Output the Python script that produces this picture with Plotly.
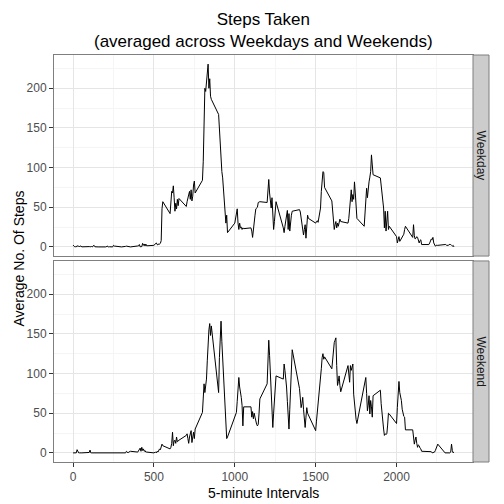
import plotly.graph_objects as go

# =====================================================
# DATA (average steps per 5-minute interval)
# =====================================================

hours = list(range(24))
minutes = list(range(0, 60, 5))
intervals = [h * 100 + m for h in hours for m in minutes]

weekday_steps = [
    2.3, 0.5, 0.2, 0.2, 0.1, 1.6, 0.6, 1.1, 0.0, 1.3, 0.3, 0.1,
    0.4, 0.0, 0.2, 0.5, 0.0, 1.5, 2.0, 0.2, 0.1, 0.3, 0.3, 0.0,
    0.0, 0.0, 1.2, 0.0, 0.0, 0.2, 0.0, 0.3, 0.0, 0.0, 2.0, 1.1,
    0.0, 0.0, 0.0, 0.0, 0.0, 0.7, 1.0, 0.7, 0.6, 0.1, 0.0, 0.0,
    1.2, 1.3, 3.0, 0.1, 0.4, 0.4, 4.5, 2.0, 3.7, 1.1, 3.6, 1.4,
    2.0, 3.0, 3.5, 5.0, 3.0, 2.5, 4.0, 3.5, 4.5, 8.0, 48.0, 57.0,
    42, 60, 70, 68, 77, 62, 45, 55, 48, 60, 52, 61,
    51, 57, 62, 66, 70, 60, 72, 58, 64, 78, 83, 68,
    84, 108, 190, 200, 196, 205, 218, 230.4, 200, 212, 190, 186,
    167, 145, 125, 104, 95, 87, 70, 49, 38, 30, 40, 18,
    30, 36, 42, 48, 30, 22, 30, 24, 25, 22, 24, 23,
    24, 20, 12, 25, 30, 40, 48, 49, 50, 56, 57, 57,
    56, 70, 85, 68, 60, 49, 62, 45, 22, 32, 41, 57,
    24, 18, 26, 35, 40, 46, 22, 42, 20, 35, 40, 45,
    47, 44, 38, 32, 24, 15, 22, 28, 11, 25, 40, 36,
    30, 32, 33, 31, 36, 40, 49, 70, 85, 95, 94, 75,
    58, 48, 40, 22, 28, 32, 24, 30, 26, 30, 35, 32,
    30, 36, 50, 62, 72, 57, 66, 60, 82, 68, 50, 36,
    26, 49, 60, 74, 62, 75, 82, 88, 95, 116, 97, 91,
    87, 78, 70, 60, 49, 24, 45, 20, 32, 45, 22, 26,
    13, 5, 9, 13, 7, 9, 10, 12, 14, 16, 22, 26,
    12, 28, 14, 10, 11, 13, 12, 8, 5, 8, 9, 3,
    3, 5, 7, 10, 9, 12, 5, 2, 1, 2, 2, 2,
    3, 3, 2, 2, 2, 3, 3, 3, 2, 1, 2, 0,
]

weekend_steps = [
    0, 0, 0, 0, 0, 4, 1, 0, 0, 0.5, 0, 0,
    0.5, 3.5, 0, 0, 0, 0, 0, 0, 0, 0, 0, 0,
    0, 0, 0, 0, 0, 0, 0, 0, 0, 0, 0, 0,
    0, 0, 0, 0, 0, 0, 2, 0, 0, 1, 2, 2,
    1, 3, 4, 6, 2, 7, 3, 5, 2, 3, 1, 1,
    0, 0.5, 1, 0, 2, 1, 3, 5, 4, 8, 11, 9,
    5, 7, 12, 26, 9, 15, 16, 12, 20, 14, 16, 16,
    22, 24, 18, 12, 20, 25, 28, 13, 20, 26, 18, 30,
    51, 70, 87, 76, 85, 93, 116, 150, 155, 163, 148, 160,
    76, 120, 145, 166, 140, 118, 100, 79, 45, 30, 18, 20,
    45, 48, 51, 65, 80, 95, 83, 78, 70, 60, 34, 58,
    58, 45, 52, 43, 50, 45, 38, 36, 34, 36, 50, 68,
    87, 110, 142, 123, 100, 83, 60, 32, 50, 72, 82, 97,
    93, 112, 104, 95, 83, 65, 45, 30, 55, 85, 110, 130,
    81, 70, 57, 62, 70, 55, 45, 32, 45, 57, 50, 48,
    28, 40, 50, 62, 75, 83, 95, 106, 120, 125, 118, 121,
    106, 120, 133, 139, 142, 145, 110, 85, 90, 97, 85, 77,
    110, 100, 89, 110, 104, 108, 112, 74, 60, 49, 42, 37,
    87, 90, 95, 75, 53, 60, 72, 49, 66, 58, 45, 72,
    79, 62, 47, 38, 30, 22, 24, 23, 24, 35, 50, 49,
    37, 57, 80, 90, 76, 72, 66, 55, 47, 46, 45, 29,
    29, 20, 11, 16, 20, 12, 7, 10, 9, 6, 5, 2,
    1, 1, 1, 1.5, 0, 0.5, 0, 1, 3, 5, 8, 11,
    0, 0, 0.5, 0, 0, 0.5, 0, 1, 11, 3, 0, 1,
]

panel_labels = ["Weekday", "Weekend"]
x_ticks = [0, 500, 1000, 1500, 2000]
y_ticks = [0, 50, 100, 150, 200]

# =====================================================
# SCALES (ggplot style 5% expansion)
# =====================================================

x_pad = 0.05 * (max(intervals) - min(intervals))
x_range = [min(intervals) - x_pad, max(intervals) + x_pad]

y_max = max(max(weekday_steps), max(weekend_steps))
y_range = [-0.05 * y_max, 1.05 * y_max]

grid_major = "#E5E5E5"
grid_minor = "#F5F5F5"
border = "#7F7F7F"
tick_font = dict(family="Liberation Sans, Arial", size=12, color="#4D4D4D")

top_dom = [0.506, 1.0]
bot_dom = [0.0, 0.494]

# =====================================================
# FIGURE
# =====================================================

fig = go.Figure()

fig.add_trace(
    go.Scatter(
        x=intervals,
        y=weekday_steps,
        mode="lines",
        line=dict(color="black", width=1),
        xaxis="x",
        yaxis="y",
        showlegend=False,
    )
)

fig.add_trace(
    go.Scatter(
        x=intervals,
        y=weekend_steps,
        mode="lines",
        line=dict(color="black", width=1),
        xaxis="x2",
        yaxis="y2",
        showlegend=False,
    )
)

x_common = dict(
    range=x_range,
    tickvals=x_ticks,
    showgrid=True,
    gridcolor=grid_major,
    minor=dict(dtick=250, tick0=0, showgrid=True, gridcolor=grid_minor, ticklen=0),
    showline=True,
    mirror=True,
    linecolor=border,
    linewidth=1,
    zeroline=False,
    tickfont=tick_font,
)

y_common = dict(
    range=y_range,
    tickvals=y_ticks,
    showgrid=True,
    gridcolor=grid_major,
    minor=dict(dtick=25, tick0=0, showgrid=True, gridcolor=grid_minor, ticklen=0),
    showline=True,
    mirror=True,
    linecolor=border,
    linewidth=1,
    zeroline=False,
    ticks="outside",
    ticklen=4,
    tickcolor="#333333",
    tickfont=tick_font,
)

# page body has an 8px margin, so the figure is 496 px and shifted
fig.update_layout(
    width=496,
    height=496,
    margin=dict(l=46, r=31, t=47, b=42),
    paper_bgcolor="white",
    plot_bgcolor="white",
    font=dict(family="Liberation Sans, Arial", color="black"),
    xaxis=dict(x_common, domain=[0, 1], anchor="y", showticklabels=False, ticks=""),
    yaxis=dict(y_common, domain=top_dom, anchor="x"),
    xaxis2=dict(x_common, domain=[0, 1], anchor="y2", ticks="outside",
                ticklen=4, tickcolor="#333333"),
    yaxis2=dict(y_common, domain=bot_dom, anchor="x2"),
)

# strips on the right side of each panel
strip_w = 16 / 419
for label, dom in zip(panel_labels, [top_dom, bot_dom]):
    fig.add_shape(
        type="rect",
        xref="paper", yref="paper",
        x0=1.0, x1=1.0 + strip_w,
        y0=dom[0], y1=dom[1],
        fillcolor="#CCCCCC",
        line=dict(color=border, width=1),
    )
    fig.add_annotation(
        text=label,
        xref="paper", yref="paper",
        x=1.0 + strip_w / 2, y=(dom[0] + dom[1]) / 2,
        xanchor="center", yanchor="middle",
        showarrow=False,
        textangle=90,
        font=dict(size=12, color="#1A1A1A"),
    )

# titles
fig.add_annotation(
    text="Steps Taken<br>(averaged across Weekdays and Weekends)",
    xref="paper", yref="paper",
    x=0.5, y=1.0,
    xanchor="center", yanchor="bottom",
    yshift=2,
    showarrow=False,
    font=dict(size=17, color="black"),
)

fig.add_annotation(
    text="5-minute Intervals",
    xref="paper", yref="paper",
    x=0.5, y=0.0,
    xanchor="center", yanchor="top",
    yshift=-21,
    showarrow=False,
    font=dict(size=14, color="black"),
)

fig.add_annotation(
    text="Average No. Of Steps",
    xref="paper", yref="paper",
    x=0.0, y=0.5,
    xanchor="right", yanchor="middle",
    xshift=-26,
    textangle=-90,
    showarrow=False,
    font=dict(size=14, color="black"),
)

fig.write_html("out.html")
